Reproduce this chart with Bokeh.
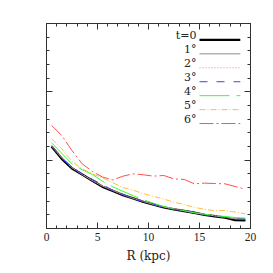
from bokeh.plotting import figure
from bokeh.models import LinearAxis, FixedTicker, Range1d, CustomJSTickFormatter
from bokeh.core.properties import value
from bokeh.embed import file_html
from bokeh.resources import INLINE

R = [0.5 + i for i in range(20)]
t0 = [6.0, 5.1, 4.4, 3.95, 3.5, 3.05, 2.75, 2.45, 2.2, 1.95, 1.75, 1.55, 1.4, 1.28, 1.15, 1.0, 0.9, 0.8, 0.62, 0.6]
d1 = [6.05, 5.15, 4.45, 3.95, 3.5, 3.1, 2.78, 2.47, 2.2, 1.98, 1.75, 1.57, 1.42, 1.3, 1.15, 1.02, 0.92, 0.82, 0.7, 0.68]
d2 = [6.1, 5.2, 4.45, 3.98, 3.52, 3.1, 2.8, 2.5, 2.22, 1.98, 1.77, 1.58, 1.43, 1.3, 1.18, 1.03, 0.93, 0.83, 0.72, 0.7]
d3 = [6.0, 5.15, 4.45, 4.0, 3.6, 3.2, 2.8, 2.5, 2.2, 1.95, 1.78, 1.55, 1.4, 1.25, 1.2, 1.0, 0.9, 0.82, 0.7, 0.72]
d4 = [6.27, 5.5, 4.73, 4.3, 3.95, 3.45, 3.05, 2.72, 2.4, 2.1, 1.85, 1.6, 1.45, 1.3, 1.15, 1.05, 0.95, 0.88, 0.8, 0.76]
d5 = [6.56, 5.83, 4.9, 4.37, 4.0, 3.7, 3.35, 3.0, 2.8, 2.55, 2.35, 2.15, 1.92, 1.75, 1.55, 1.4, 1.3, 1.32, 1.2, 1.07]
d6 = [7.54, 6.8, 5.7, 4.73, 4.17, 3.76, 3.56, 3.83, 4.0, 3.93, 3.83, 3.88, 3.63, 3.59, 3.27, 3.32, 3.29, 3.27, 3.07, 2.88]

labels = ["t=0", "1\u00b0", "2\u00b0", "3\u00b0", "4\u00b0", "5\u00b0", "6\u00b0"]
series = [t0, d1, d2, d3, d4, d5, d6]
colors = ["#000000", "#8c8c8c", "#ff7f7f", "#4040ff", "#33ff33", "#ffbf40", "#ff5050"]
widths = [2.4, 1, 1, 1, 1, 1, 1]
dashes = ["solid", "solid", "1 2", "8 9", "30 7", "6 2 1 2", "14 3 2 3"]

p = figure(width=273, height=273, output_backend="svg", toolbar_location=None,
           x_range=Range1d(0, 20), y_range=Range1d(0, 15),
           min_border_left=46, min_border_right=23, min_border_top=23, min_border_bottom=45)
p.grid.visible = False
p.outline_line_color = "#333333"
p.outline_line_width = 1
p.background_fill_color = "white"
p.border_fill_color = "white"

xt = FixedTicker(ticks=[0, 5, 10, 15, 20], minor_ticks=list(range(21)))
yt = FixedTicker(ticks=[0, 5, 10, 15], minor_ticks=list(range(16)))

def style(ax, labels_on):
    ax.major_tick_in = 6
    ax.major_tick_out = 0
    ax.minor_tick_in = 3
    ax.minor_tick_out = 0
    ax.axis_line_color = None
    ax.major_tick_line_color = "#333333"
    ax.minor_tick_line_color = "#333333"
    if not labels_on:
        ax.formatter = CustomJSTickFormatter(code="return ''")
        ax.major_label_standoff = 0

p.xaxis.ticker = xt
p.yaxis.ticker = yt
style(p.xaxis[0], True)
style(p.yaxis[0], False)
p.xaxis.major_label_text_font = "Liberation Serif"
p.xaxis.major_label_text_font_size = "11.5px"
p.xaxis.major_label_text_color = "#222222"
p.xaxis.major_label_standoff = 4
p.xaxis.axis_label = "R (kpc)"
p.xaxis.axis_label_text_font = "DejaVu Serif"
p.xaxis.axis_label_text_font_style = "normal"
p.xaxis.axis_label_text_font_size = "12px"
p.xaxis.axis_label_text_color = "#222222"
p.xaxis.axis_label_standoff = 5

top = LinearAxis(ticker=xt)
style(top, False)
p.add_layout(top, "above")
right = LinearAxis(ticker=yt)
style(right, False)
p.add_layout(right, "right")

for s, c, w, d in zip(series, colors, widths, dashes):
    p.line(R, s, line_color=c, line_width=w, line_dash=d)

# legend
for i, (lab, c, w, d) in enumerate(zip(labels, colors, widths, dashes)):
    yy = 13.8 - i * 1.02
    p.line([15.0, 19.0], [yy, yy], line_color=c, line_width=w, line_dash=d)
    p.text([14.7], [yy + 0.3], text=[lab], text_align="right", text_baseline="middle",
           text_font=value("DejaVu Serif"), text_font_size="11px", text_color="#222222")

open("out.html", "w").write(file_html(p, INLINE))
